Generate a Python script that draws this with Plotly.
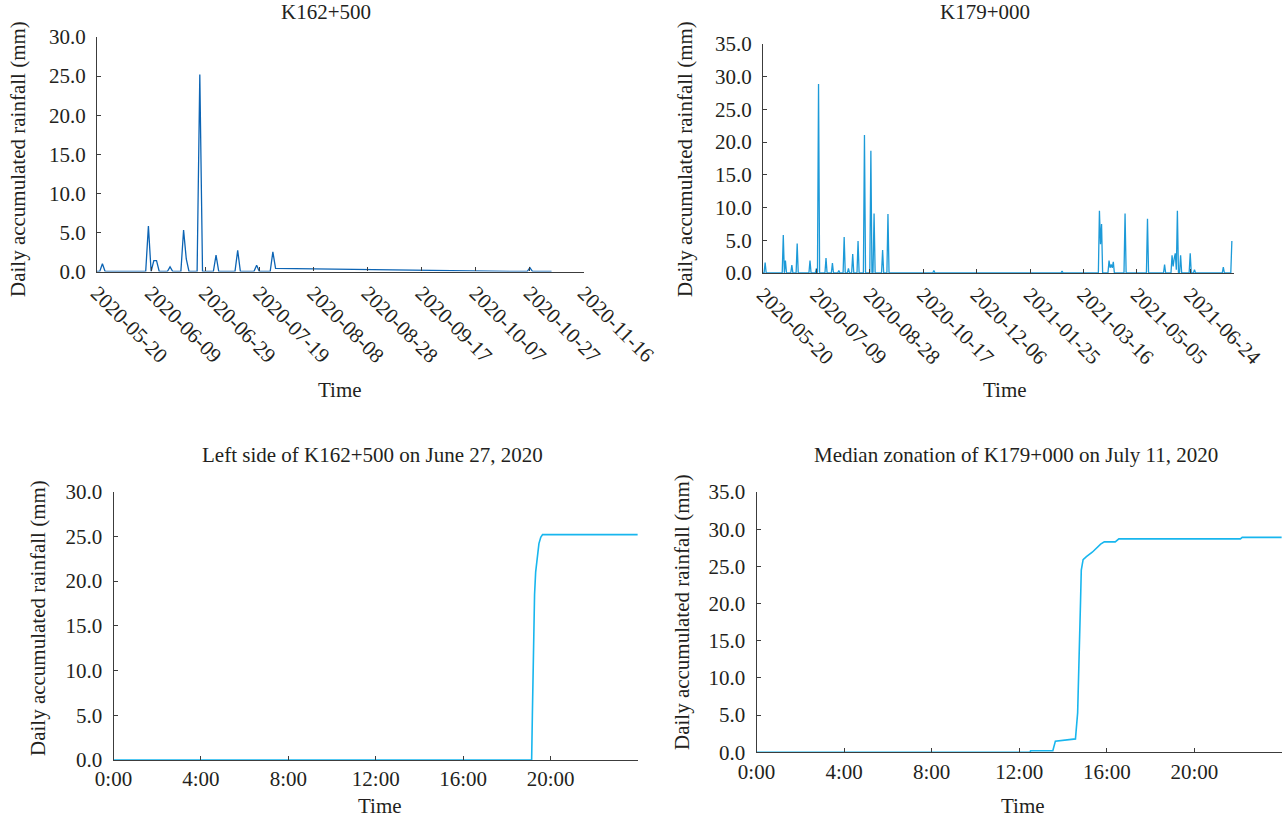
import pandas as pd
import plotly.graph_objects as go

# ---- K162+500 daily rainfall (mm) ----
k162_periods = [("2020-05-20", "2020-07-25"), ("2020-10-25", "2020-11-04")]
k162_rain = {
    "2020-05-22": 1.0, "2020-06-08": 5.8, "2020-06-10": 1.4, "2020-06-11": 1.4,
    "2020-06-16": 0.6, "2020-06-21": 5.3, "2020-06-22": 1.6, "2020-06-27": 25.2,
    "2020-07-03": 2.1, "2020-07-11": 2.7, "2020-07-18": 0.8, "2020-07-24": 2.5,
    "2020-07-25": 0.4, "2020-10-27": 0.5,
}

# ---- K179+000 daily rainfall (mm) ----
k179_period = ("2020-05-20", "2021-08-02")
k179_rain = {
    "2020-05-22": 1.6, "2020-06-08": 5.8, "2020-06-10": 1.9, "2020-06-16": 1.2,
    "2020-06-21": 4.5, "2020-07-03": 1.9, "2020-07-09": 0.7, "2020-07-11": 28.9,
    "2020-07-18": 2.3, "2020-07-24": 1.5, "2020-07-30": 0.4, "2020-08-04": 5.5,
    "2020-08-08": 0.7, "2020-08-12": 2.9, "2020-08-17": 4.9, "2020-08-23": 21.1,
    "2020-08-29": 18.7, "2020-09-01": 9.1, "2020-09-09": 3.5, "2020-09-14": 9.0,
    "2020-10-27": 0.4, "2021-02-24": 0.3, "2021-03-05": 0.1, "2021-03-31": 9.5,
    "2021-04-01": 4.4, "2021-04-02": 7.5, "2021-04-09": 1.9, "2021-04-10": 0.8,
    "2021-04-11": 1.3, "2021-04-12": 0.8, "2021-04-13": 1.7, "2021-04-24": 9.1,
    "2021-05-15": 8.3, "2021-05-31": 1.3, "2021-06-07": 2.7, "2021-06-08": 1.0,
    "2021-06-09": 2.2, "2021-06-10": 3.0, "2021-06-11": 0.5, "2021-06-12": 9.5,
    "2021-06-15": 2.7, "2021-06-24": 3.0, "2021-06-28": 0.5, "2021-07-25": 0.9,
    "2021-08-02": 4.9,
}

# ---- Cumulative rainfall within a single day ----
june27_time = ["00:00", "19:08", "19:10", "19:12", "19:14", "19:16", "19:19",
               "19:23", "19:28", "19:33", "19:38", "23:59"]
june27_mm = [0.0, 0.0, 5.0, 11.0, 15.5, 18.5, 21.0, 22.8, 24.2, 24.9, 25.2, 25.2]

july11_time = ["00:00", "12:30", "12:31", "13:32", "13:39", "14:07", "14:34",
               "14:40", "14:43", "14:45", "14:48", "14:50", "14:55", "15:04",
               "15:20", "15:43", "15:53", "16:23", "16:33", "22:06", "22:11", "23:59"]
july11_mm = [0.0, 0.0, 0.2, 0.2, 1.5, 1.7, 1.8, 5.3, 10.0, 14.2, 20.4, 24.5,
             25.9, 26.3, 26.9, 28.0, 28.3, 28.3, 28.7, 28.7, 28.9, 28.9]

hour_ticks = ["00:00", "04:00", "08:00", "12:00", "16:00", "20:00"]
hour_labels = ["0:00", "4:00", "8:00", "12:00", "16:00", "20:00"]


def daily_series(periods, rain):
    days = pd.DatetimeIndex([])
    for start, end in periods:
        days = days.append(pd.date_range(start, end, freq="D"))
    values = [rain.get(d.strftime("%Y-%m-%d"), 0.0) for d in days]
    return days, values


d162, v162 = daily_series(k162_periods, k162_rain)
d179, v179 = daily_series([k179_period], k179_rain)

FONT = "Liberation Serif"
INK = "#231f20"
AXC = "#3c3c3c"
W, H = 1282, 818
FS = 21


def px_x(p):
    return p / W


def px_y(p):
    return 1 - p / H


fig = go.Figure()
fig.add_trace(go.Scatter(x=d162, y=v162, mode="lines", xaxis="x", yaxis="y",
                         line=dict(color="#0c64b4", width=1.3), showlegend=False))
fig.add_trace(go.Scatter(x=d179, y=v179, mode="lines", xaxis="x2", yaxis="y2",
                         line=dict(color="#1c9ad8", width=1.3), showlegend=False))
fig.add_trace(go.Scatter(x=["2020-06-27 " + t for t in june27_time], y=june27_mm,
                         mode="lines", xaxis="x3", yaxis="y3",
                         line=dict(color="#18b6ee", width=1.6), showlegend=False))
fig.add_trace(go.Scatter(x=["2020-07-11 " + t for t in july11_time], y=july11_mm,
                         mode="lines", xaxis="x4", yaxis="y4",
                         line=dict(color="#18b6ee", width=1.6), showlegend=False))

axis_common = dict(showline=True, linecolor=AXC, linewidth=1.3, mirror=False,
                   showgrid=False, zeroline=False, ticks="inside", ticklen=4,
                   tickwidth=1.2, tickcolor=AXC, automargin=False,
                   tickfont=dict(family=FONT, size=FS, color=INK))
yaxis_common = dict(axis_common, dtick=5, tickformat=".1f", ticklabelstandoff=6)

DAY = 86400000

fig.update_layout(
    width=W, height=H, margin=dict(l=0, r=0, t=0, b=0, autoexpand=False),
    paper_bgcolor="white", plot_bgcolor="white",
    xaxis=dict(axis_common, domain=[px_x(97), px_x(584)], anchor="y", type="date",
               range=["2020-05-20", "2020-11-16"], tick0="2020-05-20", dtick=20 * DAY,
               tickformat="%Y-%m-%d", tickangle=45),
    yaxis=dict(yaxis_common, domain=[px_y(271.5), px_y(37)], anchor="x", range=[0, 30]),
    xaxis2=dict(axis_common, domain=[px_x(763), px_x(1234)], anchor="y2", type="date",
                range=["2020-05-20", "2021-08-04"], tick0="2020-05-20", dtick=50 * DAY,
                tickformat="%Y-%m-%d", tickangle=45),
    yaxis2=dict(yaxis_common, domain=[px_y(273), px_y(44)], anchor="x2", range=[0, 35]),
    xaxis3=dict(axis_common, domain=[px_x(113.5), px_x(638)], anchor="y3", type="date",
                range=["2020-06-27 00:00", "2020-06-28 00:00"],
                tickmode="array", tickvals=["2020-06-27 " + t for t in hour_ticks],
                ticktext=hour_labels, tickangle=0),
    yaxis3=dict(yaxis_common, domain=[px_y(760), px_y(491.7)], anchor="x3", range=[0, 30]),
    xaxis4=dict(axis_common, domain=[px_x(756.5), 1.0], anchor="y4", type="date",
                range=["2020-07-11 00:00", "2020-07-12 00:00"],
                tickmode="array", tickvals=["2020-07-11 " + t for t in hour_ticks],
                ticktext=hour_labels, tickangle=0),
    yaxis4=dict(yaxis_common, domain=[px_y(752.3), px_y(492)], anchor="x4", range=[0, 35]),
)

labels = [
    # panel titles
    ("K162+500", 326, 12, 0, FS),
    ("K179+000", 985, 12, 0, FS),
    ("Left side of K162+500 on June 27, 2020", 372, 455, 0, FS),
    ("Median zonation of K179+000 on July 11, 2020", 1016, 455, 0, FS),
    # x-axis titles
    ("Time", 340, 390, 0, FS),
    ("Time", 1005, 390, 0, FS),
    ("Time", 380, 806, 0, FS),
    ("Time", 1023, 806, 0, FS),
    # y-axis titles
    ("Daily accumulated rainfall (mm)", 18, 159, -90, FS),
    ("Daily accumulated rainfall (mm)", 685, 159, -90, FS),
    ("Daily accumulated rainfall (mm)", 38, 618, -90, FS),
    ("Daily accumulated rainfall (mm)", 682, 612, -90, FS),
]
for text, x, y, ang, size in labels:
    fig.add_annotation(text=text, x=px_x(x), y=px_y(y), xref="paper", yref="paper",
                       showarrow=False, textangle=ang, xanchor="center", yanchor="middle",
                       font=dict(family=FONT, size=size, color=INK))

fig.write_html("out.html")
